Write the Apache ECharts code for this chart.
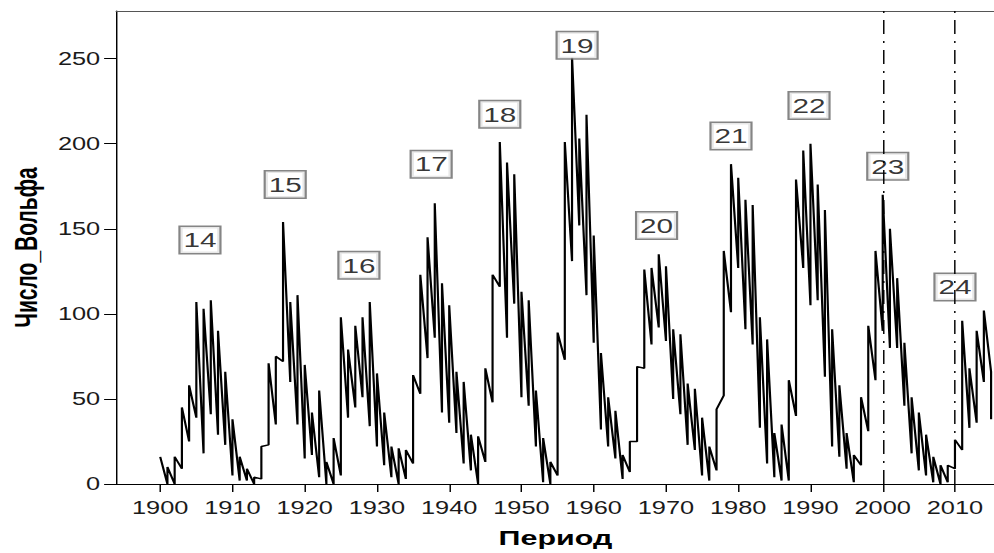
<!DOCTYPE html>
<html><head><meta charset="utf-8">
<script src="https://cdn.jsdelivr.net/npm/echarts@6/dist/echarts.min.js"></script>
<style>
html,body{margin:0;padding:0;background:#fff;overflow:hidden}
#wrap{width:994px;height:553px;overflow:hidden;position:relative;background:#fff}
#c{width:685.5px;height:553px;transform:scaleX(1.45);transform-origin:0 0}
</style></head><body><div id="wrap"><div id="c"></div></div>
<script>
// ---- data ----
const years = [1900,1901,1902,1903,1904,1905,1906,1907,1908,1909,
  1910,1911,1912,1913,1914,1915,1916,1917,1918,1919,
  1920,1921,1922,1923,1924,1925,1926,1927,1928,1929,
  1930,1931,1932,1933,1934,1935,1936,1937,1938,1939,
  1940,1941,1942,1943,1944,1945,1946,1947,1948,1949,
  1950,1951,1952,1953,1954,1955,1956,1957,1958,1959,
  1960,1961,1962,1963,1964,1965,1966,1967,1968,1969,
  1970,1971,1972,1973,1974,1975,1976,1977,1978,1979,
  1980,1981,1982,1983,1984,1985,1986,1987,1988,1989,
  1990,1991,1992,1993,1994,1995,1996,1997,1998,1999,
  2000,2001,2002,2003,2004,2005,2006,2007,2008,2009,
  2010,2011,2012,2013,2014,2015];
// first value plotted at each year (end of the incoming segment)
const firstVals = [16,0,0,9,25,39,18,41,29,23,
  5,2,2,0,3,23,35,72,60,35,
  15,17,4,0,0,5,39,45,51,34,
  22,11,4,0,3,12,53,74,86,42,
  36,30,12,8,0,13,48,116,86,106,
  51,46,22,1,0,5,73,131,152,111,
  83,32,22,15,3,7,25,68,82,92,
  84,50,41,23,20,5,2,8,52,101,
  127,91,82,33,12,4,2,2,40,127,
  105,108,63,22,16,9,1,11,31,61,
  90,80,80,46,18,8,5,1,0,1,
  9,20,33,36,60,66];
// second value plotted at each year (start of the outgoing segment)
const secondVals = [16,10,16,45,58,107,103,108,90,66,
  38,16,9,4,22,71,75,154,107,111,
  70,42,55,13,27,98,79,93,98,107,
  65,42,22,21,20,64,123,145,165,118,
  105,66,60,29,28,68,123,201,189,182,
  113,108,55,27,13,89,201,251,203,217,
  146,77,51,43,17,25,69,126,127,135,
  128,91,88,59,56,39,22,44,137,188,
  180,167,164,98,85,30,35,61,179,196,
  200,176,161,91,58,30,17,51,93,137,
  170,150,121,83,51,42,29,16,11,11,
  26,96,68,90,102,38];
// solar cycle labels
const cycleNums  = ['14','15','16','17','18','19','20','21','22','23','24'];
const cycleYears = [1905.5,1917.3,1927.5,1937.5,1947.0,1957.7,1968.7,1979.0,1989.8,2000.7,2010.0];
const cycleVals  = [143.4,176,128.5,188,217.3,257.8,152,204.6,222.4,186.7,115.8];
// reference lines and ticks
const refLines = [2000, 2010];
const xTicks = [1900,1910,1920,1930,1940,1950,1960,1970,1980,1990,2000,2010];
const yTicks = [0,50,100,150,200,250];

const linePoints = [];
years.forEach((y, i) => { linePoints.push([y, firstVals[i]]); linePoints.push([y, secondVals[i]]); });
const labelPoints = cycleYears.map((y, i) => ({ value: [y, cycleVals[i]], name: cycleNums[i] }));

const FONT = 'Liberation Sans, Arial, sans-serif';
const chart = echarts.init(document.getElementById('c'), null, { renderer: 'svg' });
chart.setOption({
  animation: false,
  backgroundColor: '#fff',
  grid: { left: 79.3, right: 0, top: 11, bottom: 66, containLabel: false },
  xAxis: [{
    type: 'value', min: 1893.9, max: 2015.5, position: 'bottom',
    name: 'Период', nameLocation: 'middle', nameGap: 43,
    nameTextStyle: { fontFamily: FONT, fontSize: 21, fontWeight: 'bold', color: '#000' },
    axisLine: { show: true, onZero: false, lineStyle: { color: '#000', width: 1 } },
    axisTick: { show: true, length: 8, customValues: xTicks, lineStyle: { color: '#000', width: 1 } },
    axisLabel: { customValues: xTicks, margin: 15, fontFamily: FONT, fontSize: 17.5, color: '#1a1a1a',
      formatter: v => String(v) },
    splitLine: { show: false }
  }, {
    type: 'value', min: 1893.9, max: 2015.5, position: 'top',
    axisLine: { show: true, onZero: false, lineStyle: { color: '#555', width: 1 } },
    axisTick: { show: false }, axisLabel: { show: false }, splitLine: { show: false }
  }],
  yAxis: {
    type: 'value', min: 0, max: 278,
    name: 'Число_Вольфа', nameLocation: 'middle', nameGap: 49, nameRotate: 90,
    nameTextStyle: { fontFamily: FONT, fontSize: 21, fontWeight: 'bold', color: '#000' },
    axisLine: { show: true, lineStyle: { color: '#000', width: 1 } },
    axisTick: { show: true, length: 8.3, customValues: yTicks, lineStyle: { color: '#000', width: 1 } },
    axisLabel: { customValues: yTicks, margin: 11, fontFamily: FONT, fontSize: 17.5, color: '#1a1a1a',
      formatter: v => String(v) },
    splitLine: { show: false }
  },
  series: [{
    type: 'line', data: linePoints, showSymbol: false, symbol: 'none', z: 2,
    lineStyle: { color: '#000', width: 1.5 }, silent: true
  }, {
    type: 'scatter', data: labelPoints, symbolSize: 0, z: 3, silent: true,
    label: {
      show: true, position: 'inside', formatter: p => p.name,
      fontFamily: FONT, fontSize: 20.5, color: '#000', lineHeight: 21,
      backgroundColor: '#fff', borderColor: '#666', borderWidth: 1.5,
      padding: [3, 2, 2, 2]
    }
  }, {
    type: 'line', data: [], z: 5, silent: true,
    markLine: {
      silent: true, symbol: 'none', animation: false,
      label: { show: false },
      lineStyle: { color: '#000', width: 1, type: [14, 7, 2, 7] },
      data: refLines.map(v => ({ xAxis: v }))
    }
  }]
});
</script></body></html>
